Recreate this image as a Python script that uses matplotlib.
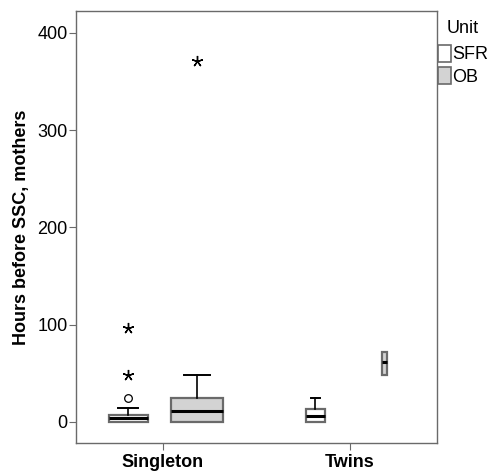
import matplotlib
matplotlib.use("Agg")
import matplotlib.pyplot as plt
from matplotlib.patches import Patch
import numpy as np

plt.rcParams['font.family'] = ['Liberation Sans', 'DejaVu Sans']

categories = ["Singleton", "Twins"]
units = ["SFR", "OB"]
# box stats per (category, unit): order Singleton-SFR, Singleton-OB, Twins-SFR, Twins-OB
whislo = [0, 0, 0, 48]
q1 = [0, 0, 0, 48]
med = [3.8, 11, 5.9, 61]
q3 = [7, 24, 13, 72]
whishi = [14.7, 48, 24.4, 72]
outliers = [[24.4], [], [], []]          # circles
extremes = [[48.3, 96.7], [371], [], []]  # stars

fills = ["white", "#d3d3d3"]
edge = "#6a6a6a"

fig = plt.figure(figsize=(4.96, 4.72), dpi=100)
ax = fig.add_axes([76/496, (472-443)/472, 361/496, 432/472])

offs = [-0.185, 0.185]
widths = [0.208, 0.278, 0.105, 0.025]
idx = 0
for ci, cat in enumerate(categories):
    for ui, u in enumerate(units):
        st = dict(whislo=whislo[idx], q1=q1[idx], med=med[idx], q3=q3[idx],
                  whishi=whishi[idx], fliers=[])
        pos = ci + offs[ui]
        w = widths[idx]
        art = ax.bxp([st], positions=[pos], widths=[w], capwidths=[w*0.5],
                     showfliers=False, patch_artist=True,
                     boxprops=dict(facecolor=fills[ui], edgecolor=edge, linewidth=1.6),
                     medianprops=dict(color="black", linewidth=2.2, solid_capstyle='butt'),
                     whiskerprops=dict(color="black", linewidth=1.2),
                     capprops=dict(color="black", linewidth=1.4),
                     manage_ticks=False)
        if whislo[idx] >= q1[idx]:
            art['caps'][0].set_visible(False)
            art['whiskers'][0].set_visible(False)
        if whishi[idx] <= q3[idx]:
            art['caps'][1].set_visible(False)
            art['whiskers'][1].set_visible(False)
        if outliers[idx]:
            ax.plot([pos]*len(outliers[idx]), outliers[idx], 'o', mfc='none',
                    mec='black', ms=5.5, mew=0.9)
        if extremes[idx]:
            ax.plot([pos]*len(extremes[idx]), extremes[idx], marker=(5, 2, 0),
                    ls='none', color='black', ms=8, mew=1.0)
        idx += 1

ax.set_xlim(-0.463, 1.464)
ax.set_ylim(-21.8, 422.5)
ax.set_yticks([0, 100, 200, 300, 400])
ax.set_xticks([0, 1])
ax.set_xticklabels(categories, fontsize=13, fontweight='bold')
ax.tick_params(axis='y', labelsize=13, length=5, color=edge, pad=1)
ax.tick_params(axis='x', length=5, color=edge, pad=3)
for s in ax.spines.values():
    s.set_color(edge)
    s.set_linewidth(1.0)
ax.set_ylabel("Hours before SSC, mothers", fontsize=13, fontweight='bold', labelpad=5)

handles = [Patch(facecolor=fills[i], edgecolor=edge, linewidth=1.2) for i in range(2)]
leg = fig.legend(handles, units, title="Unit", loc='upper left',
                 bbox_to_anchor=(438/496, 1 - 20/472), frameon=False, fontsize=13,
                 title_fontsize=13, handlelength=0.7, handleheight=1.1,
                 handletextpad=0.08, borderaxespad=0, borderpad=0.0, labelspacing=0.2)
leg._legend_box.align = "center"
leg._legend_box.sep = 5.5

fig.savefig("out.png", dpi=100)
